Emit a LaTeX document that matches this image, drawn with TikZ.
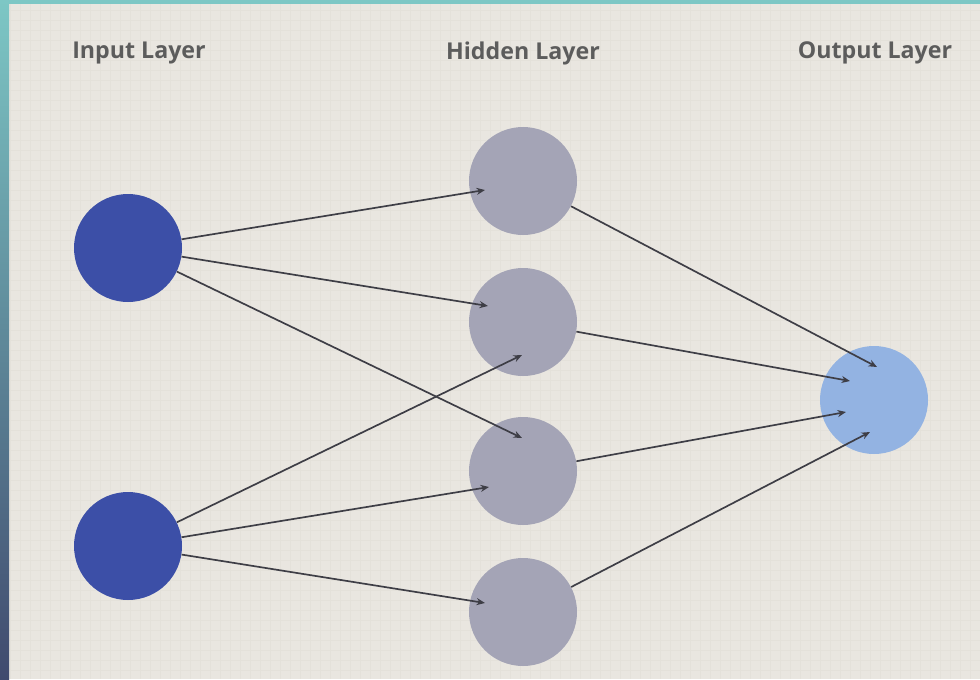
\documentclass[tikz,border=0pt]{standalone}
\usepackage{fontspec}
\setmainfont{Open Sans}
\usetikzlibrary{arrows.meta}

\definecolor{paper}{HTML}{E9E6E0}
\definecolor{gridc}{HTML}{E4E1DA}
\definecolor{frametop}{HTML}{7DC7C5}
\definecolor{framebot}{HTML}{404A6E}
\definecolor{inblue}{HTML}{3C4FA7}
\definecolor{hidgray}{HTML}{A4A4B6}
\definecolor{outblue}{HTML}{93B3E2}
\definecolor{linkc}{HTML}{3E3E46}
\definecolor{labelc}{HTML}{5C5C5C}

\begin{document}
\begin{tikzpicture}[x=0.25mm, y=-0.25mm,
					neuron/.style={circle, minimum size=27mm, inner sep=0pt, draw=none},
					inneuron/.style={neuron, fill=inblue},
					hidneuron/.style={neuron, fill=hidgray},
					outneuron/.style={neuron, fill=outblue},
					layer/.style={font=\fontsize{16.5}{18}\selectfont\bfseries, text=labelc},
					link/.style={draw=linkc, line width=1.2pt, -{Stealth[length=6pt, width=5pt]}}]
\useasboundingbox (0,0) rectangle (980,679);
% background and frame
\fill[paper] (0,0) rectangle (980,679);
\draw[gridc, line width=0.3pt, step=2.5mm] (9,4) grid (980,679);
\shade[top color=frametop, bottom color=framebot] (0,0) rectangle (9,679);
\fill[frametop] (0,0) rectangle (980,4);

% layer titles
\node[layer] (tin) at (139,53) {Input Layer};
\node[layer] (thid) at (523,53) {Hidden Layer};
\node[layer] (tout) at (875,53) {Output Layer};

% neurons
\node[inneuron] (in1) at (128,248) {};
\node[inneuron] (in2) at (128,546) {};
\node[hidneuron] (h1) at (523,181) {};
\node[hidneuron] (h2) at (523,322) {};
\node[hidneuron] (h3) at (523,471) {};
\node[hidneuron] (h4) at (523,612) {};
\node[outneuron] (out) at (874,400) {};

% arrow tips inside the circles
\coordinate (h1a) at (485,190);
\coordinate (h2a) at (488,306);
\coordinate (h2b) at (522,355);
\coordinate (h3a) at (522,438);
\coordinate (h3b) at (489,487);
\coordinate (h4a) at (485,603);
\coordinate (o1) at (877,367);
\coordinate (o2) at (850,381);
\coordinate (o3) at (846,412);
\coordinate (o4) at (870,432);

% connections
\draw[link] (in1) -- (h1a);
\draw[link] (in1) -- (h2a);
\draw[link] (in1) -- (h3a);
\draw[link] (in2) -- (h2b);
\draw[link] (in2) -- (h3b);
\draw[link] (in2) -- (h4a);
\draw[link] (h1) -- (o1);
\draw[link] (h2) -- (o2);
\draw[link] (h3) -- (o3);
\draw[link] (h4) -- (o4);
\end{tikzpicture}
\end{document}
